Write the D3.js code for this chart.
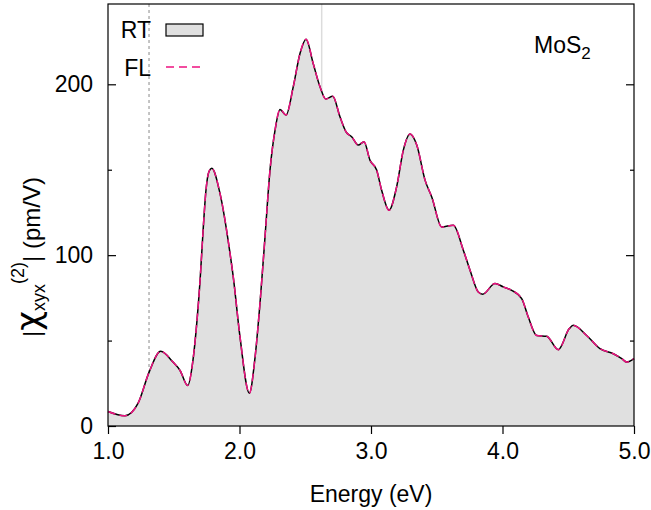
<!DOCTYPE html>
<html>
<head>
<meta charset="utf-8">
<script src="https://cdn.jsdelivr.net/npm/d3@7"></script>
<style>
  body { margin: 0; background: #fff; }
  text { font-family: "Liberation Sans", Arial, sans-serif; fill: #000; }
</style>
</head>
<body>
<div id="container"></div>
<script>
const width = 651,
  height = 510,
  margin = { top: 4, right: 17, bottom: 84, left: 108 };

/** -------------- DATA -------------- */

// photon energy (eV)
const energy = [
  1.000, 1.129, 1.228, 1.312, 1.401, 1.494, 1.548, 1.606, 1.646, 1.677,
  1.700, 1.722, 1.745, 1.768, 1.789, 1.852, 1.928, 1.953, 2.004, 2.075, 2.118,
  2.156, 2.194, 2.232, 2.270, 2.308, 2.354, 2.409, 2.460, 2.506, 2.561,
  2.612, 2.656, 2.709, 2.764, 2.810, 2.853, 2.903, 2.947, 2.992, 3.043,
  3.081, 3.137, 3.195, 3.246, 3.297, 3.348, 3.411, 3.462, 3.538, 3.626,
  3.702, 3.753, 3.816, 3.849, 3.943, 4.006, 4.070, 4.146, 4.196, 4.260,
  4.336, 4.424, 4.508, 4.538, 4.640, 4.741, 4.843, 4.907, 4.945, 5.000
];

// |chi_xyx^(2)| (pm/V), RT
const rtValues = [
  8.5, 6.0, 13.2, 31.4, 43.7, 37.4, 32.5, 23.7, 38.4, 62.0,
  85.0, 113.0, 138.0, 149.0, 150.8, 136.0, 101.0, 87.0, 52.0, 19.2, 40.0,
  72.0, 110.7, 149.8, 173.0, 185.3, 182.0, 198.6, 218.0, 226.4, 212.0,
  198.6, 191.4, 193.0, 181.0, 172.2, 169.3, 164.4, 166.4, 155.6, 149.8,
  138.0, 126.3, 140.0, 161.5, 170.9, 164.4, 143.9, 134.1, 116.5, 117.5,
  102.9, 91.2, 78.4, 77.1, 83.4, 81.4, 79.4, 74.6, 63.8, 53.0,
  52.5, 44.7, 57.0, 58.9, 53.0, 45.3, 42.3, 39.4, 37.4, 39.4
];

// FL (overlaps RT at this resolution)
const flValues = [
  8.5, 6.0, 13.2, 31.4, 43.7, 37.4, 32.5, 23.7, 38.4, 62.0,
  85.0, 113.0, 138.0, 149.0, 150.8, 136.0, 101.0, 87.0, 52.0, 19.2, 40.0,
  72.0, 110.7, 149.8, 173.0, 185.3, 182.0, 198.6, 218.0, 226.4, 212.0,
  198.6, 191.4, 193.0, 181.0, 172.2, 169.3, 164.4, 166.4, 155.6, 149.8,
  138.0, 126.3, 140.0, 161.5, 170.9, 164.4, 143.9, 134.1, 116.5, 117.5,
  102.9, 91.2, 78.4, 77.1, 83.4, 81.4, 79.4, 74.6, 63.8, 53.0,
  52.5, 44.7, 57.0, 58.9, 53.0, 45.3, 42.3, 39.4, 37.4, 39.4
];

const xTicks = [1, 2, 3, 4, 5];
const yTicks = [0, 100, 200];
const yMinorTicks = [50, 150];

// marker energies (dashed = gap, solid light = second marker)
const gapEnergy = 1.312;
const markEnergy = 2.625;

/** -------------- SCALES -------------- */

const innerW = width - margin.left - margin.right,
  innerH = height - margin.top - margin.bottom;

const x = d3.scaleLinear([1, 5], [0, innerW]);
const y = d3.scaleLinear([0, 247], [innerH, 0]);

const rt = energy.map((e, i) => ({ e, v: rtValues[i] }));
const fl = energy.map((e, i) => ({ e, v: flValues[i] }));

const curve = d3.curveMonotoneX;
const area = d3.area().x(d => x(d.e)).y0(y(0)).y1(d => y(d.v)).curve(curve);
const line = d3.line().x(d => x(d.e)).y(d => y(d.v)).curve(curve);

/** -------------- DRAW -------------- */

const svg = d3.select("#container")
  .append("svg")
  .attr("width", width)
  .attr("height", height);

const g = svg.append("g")
  .attr("transform", `translate(${[margin.left, margin.top]})`);

// marker lines (behind the fill)
g.append("line")
  .attr("x1", x(gapEnergy)).attr("x2", x(gapEnergy))
  .attr("y1", 0).attr("y2", innerH)
  .attr("stroke", "#8a8a8a")
  .attr("stroke-dasharray", "3,3");

g.append("line")
  .attr("x1", x(markEnergy)).attr("x2", x(markEnergy))
  .attr("y1", 0).attr("y2", innerH)
  .attr("stroke", "#dcdcdc")
  .attr("stroke-width", 1.5);

g.append("path")
  .datum(rt)
  .attr("fill", "#e0e0e0")
  .attr("d", area);

g.append("path")
  .datum(rt)
  .attr("fill", "none")
  .attr("stroke", "#000")
  .attr("stroke-width", 1.5)
  .attr("d", line);

g.append("path")
  .datum(fl)
  .attr("fill", "none")
  .attr("stroke", "#ee1280")
  .attr("stroke-width", 1.5)
  .attr("stroke-dasharray", "8,4")
  .attr("d", line);

// frame
g.append("rect")
  .attr("width", innerW)
  .attr("height", innerH)
  .attr("fill", "none")
  .attr("stroke", "#000")
  .attr("stroke-width", 1.2);

// axes
g.append("g")
  .attr("transform", `translate(0,${innerH})`)
  .call(d3.axisBottom(x).tickValues(xTicks).tickSize(8).tickSizeOuter(0).tickPadding(9)
    .tickFormat(d3.format(".1f")));

g.append("g")
  .call(d3.axisLeft(y).tickValues(yTicks).tickSize(-8).tickSizeOuter(0).tickPadding(15));

g.append("g")
  .call(d3.axisLeft(y).tickValues(yMinorTicks).tickSize(-4).tickSizeOuter(0).tickFormat(""));

g.append("g")
  .attr("transform", `translate(${innerW},0)`)
  .call(d3.axisRight(y).tickValues(yTicks.slice(1)).tickSize(-8).tickSizeOuter(0).tickFormat(""));

g.append("g")
  .attr("transform", `translate(${innerW},0)`)
  .call(d3.axisRight(y).tickValues(yMinorTicks).tickSize(-4).tickSizeOuter(0).tickFormat(""));

g.selectAll(".domain").remove();
g.selectAll(".tick line").attr("stroke", "#000").attr("stroke-width", 1.2);
g.selectAll(".tick text")
  .attr("font-size", 23)
  .attr("font-family", "Liberation Sans, Arial, sans-serif")
  .attr("fill", "#000");

// axis titles
svg.append("text")
  .attr("x", margin.left + innerW / 2)
  .attr("y", 502)
  .attr("text-anchor", "middle")
  .attr("font-size", 23)
  .text("Energy (eV)");

const yTitle = svg.append("text")
  .attr("transform", `translate(40,${257}) rotate(-90)`)
  .attr("text-anchor", "middle")
  .attr("font-size", 24);
yTitle.append("tspan").text("|");
yTitle.append("tspan").attr("font-size", 34).attr("font-family", "DejaVu Sans, sans-serif").text("χ");
yTitle.append("tspan").attr("font-size", 18).attr("dy", 5).text("xyx");
yTitle.append("tspan").attr("font-size", 18).attr("dy", -21).text("(2)");
yTitle.append("tspan").attr("dy", 16).text("| (pm/V)");

// label
const mos = svg.append("text")
  .attr("x", 534)
  .attr("y", 53)
  .attr("font-size", 23);
mos.append("tspan").text("MoS");
mos.append("tspan").attr("font-size", 17).attr("dy", 6).text("2");

// legend
const legend = svg.append("g");
legend.append("text")
  .attr("x", 151).attr("y", 38)
  .attr("text-anchor", "end")
  .attr("font-size", 23)
  .text("RT");
legend.append("rect")
  .attr("x", 166).attr("y", 24)
  .attr("width", 37).attr("height", 12)
  .attr("fill", "#e0e0e0")
  .attr("stroke", "#000")
  .attr("stroke-width", 1.2);
legend.append("text")
  .attr("x", 151).attr("y", 76)
  .attr("text-anchor", "end")
  .attr("font-size", 23)
  .text("FL");
legend.append("line")
  .attr("x1", 166).attr("x2", 204)
  .attr("y1", 67).attr("y2", 67)
  .attr("stroke", "#ee1280")
  .attr("stroke-width", 1.5)
  .attr("stroke-dasharray", "8,5");
</script>
</body>
</html>
